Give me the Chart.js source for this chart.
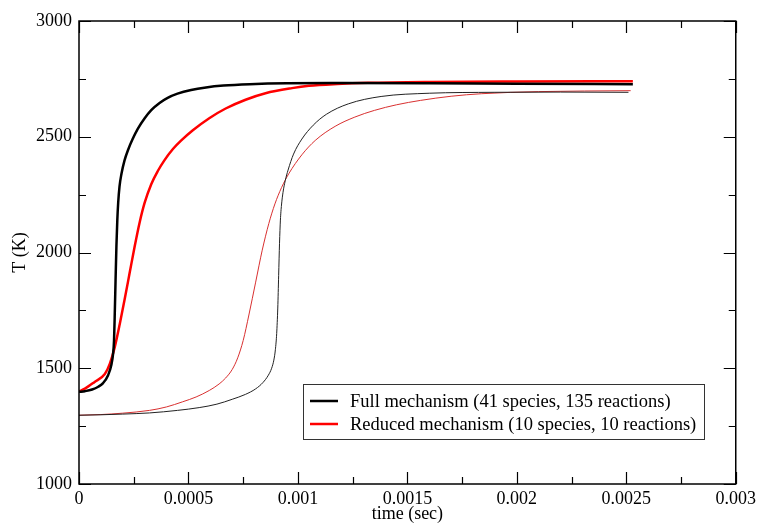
<!DOCTYPE html>
<html>
<head>
<meta charset="utf-8">
<script src="https://cdn.jsdelivr.net/npm/chart.js@4.4.1/dist/chart.umd.min.js"></script>
<style>
html, body { margin: 0; padding: 0; background: #fff; }
</style>
</head>
<body>
<canvas id="grafica" width="760" height="525"></canvas>
<script>
// series names (legend)
var seriesNames = ['Full mechanism (41 species, 135 reactions)', 'Reduced mechanism (10 species, 10 reactions)'];

// full mechanism, initial T = 1400 K
var tFull1400 = [0, 0.000027, 0.00006, 0.000088, 0.00011, 0.000133, 0.000148, 0.000156, 0.00016, 0.000163, 0.000167, 0.000171, 0.000175, 0.000179, 0.000185, 0.000194, 0.000208, 0.000224, 0.000245, 0.000269, 0.0003, 0.00033, 0.000368, 0.000405, 0.00045, 0.000512, 0.00058, 0.00066, 0.00078, 0.00095, 0.0012, 0.0016, 0.002, 0.00253];
var TFull1400 = [1398, 1401, 1408, 1420, 1436, 1470, 1515, 1565, 1620, 1720, 1880, 2030, 2140, 2215, 2285, 2340, 2398, 2443, 2490, 2535, 2580, 2615, 2646, 2668, 2686, 2702, 2713, 2721, 2727, 2731, 2732, 2731, 2729, 2727];

// reduced mechanism, initial T = 1400 K
var tRed1400 = [0, 0.000027, 0.00007, 0.000118, 0.000141, 0.000163, 0.000186, 0.000209, 0.000231, 0.000254, 0.000277, 0.0003, 0.00033, 0.00036, 0.00039, 0.00043, 0.000466, 0.00052, 0.000595, 0.00067, 0.000761, 0.000852, 0.000973, 0.00105, 0.00118, 0.00132, 0.0016, 0.002, 0.00253];
var TRed1400 = [1400, 1412, 1440, 1475, 1520, 1590, 1690, 1800, 1910, 2025, 2130, 2215, 2295, 2352, 2398, 2448, 2483, 2528, 2580, 2622, 2660, 2688, 2710, 2720, 2728, 2733, 2737, 2739, 2740];

// full mechanism, initial T = 1300 K
var tFull1300 = [0, 0.0001, 0.0002, 0.000322, 0.00045, 0.000549, 0.00063, 0.0007, 0.00076, 0.000807, 0.00084, 0.000865, 0.00088, 0.00089, 0.000897, 0.000903, 0.000908, 0.000912, 0.000916, 0.00092, 0.000925, 0.000932, 0.000942, 0.000955, 0.00098, 0.001018, 0.00107, 0.00113, 0.00123, 0.00138, 0.0016, 0.0019, 0.0022, 0.00251];
var TFull1300 = [1297, 1299, 1302, 1307, 1318, 1330, 1345, 1366, 1387, 1411, 1438, 1470, 1500, 1535, 1580, 1650, 1760, 1900, 2040, 2140, 2205, 2260, 2310, 2356, 2425, 2490, 2550, 2597, 2642, 2674, 2688, 2692, 2693, 2692];

// reduced mechanism, initial T = 1300 K
var tRed1300 = [0, 0.0001, 0.0002, 0.000322, 0.0004, 0.000473, 0.000535, 0.000595, 0.00064, 0.00067, 0.0007, 0.000725, 0.00075, 0.000776, 0.000807, 0.000837, 0.000867, 0.000895, 0.000925, 0.000958, 0.001018, 0.001079, 0.00117, 0.00126, 0.00135, 0.00145, 0.00156, 0.0017, 0.00184, 0.0021, 0.00252];
var TRed1300 = [1297, 1300, 1306, 1318, 1333, 1355, 1376, 1404, 1432, 1458, 1495, 1545, 1620, 1730, 1872, 2010, 2125, 2210, 2280, 2340, 2422, 2484, 2545, 2585, 2614, 2638, 2657, 2675, 2686, 2695, 2699];

// tick labels
var xTickLabels = ['0', '0.0005', '0.001', '0.0015', '0.002', '0.0025', '0.003'];
var yTickLabels = ['1000', '1500', '2000', '2500', '3000'];

var serif = "'Liberation Serif', 'Times New Roman', serif";

function puntos(tx, ty) {
    var p = [];
    for (var i = 0; i < tx.length; i++) p.push({x: tx[i], y: ty[i]});
    return p;
}

// frame, inward ticks on all 4 sides, legend box
var marco = {
    id: 'marco',
    afterDatasetsDraw: function(chart) {
        var c = chart.ctx;
        var a = chart.chartArea;
        var sx = chart.scales.x, sy = chart.scales.y;
        c.save();
        c.strokeStyle = '#000';
        c.lineWidth = 1.5;
        c.strokeRect(a.left, a.top, a.right - a.left, a.bottom - a.top);
        c.lineWidth = 1.2;
        var i, v, p, len;
        for (i = 0; i <= 12; i++) {
            v = i * 0.00025;
            p = Math.round(sx.getPixelForValue(v)) + 0.5;
            len = (i % 2 == 0) ? 12 : 7;
            c.beginPath();
            c.moveTo(p, a.bottom); c.lineTo(p, a.bottom - len);
            c.moveTo(p, a.top); c.lineTo(p, a.top + len);
            c.stroke();
        }
        for (i = 0; i <= 8; i++) {
            v = 1000 + i * 250;
            p = Math.round(sy.getPixelForValue(v)) + 0.5;
            len = (i % 2 == 0) ? 12 : 7;
            c.beginPath();
            c.moveTo(a.left, p); c.lineTo(a.left + len, p);
            c.moveTo(a.right, p); c.lineTo(a.right - len, p);
            c.stroke();
        }
        // legend
        var bx = 303.5, by = 384.5, bw = 401, bh = 55;
        c.fillStyle = '#fff';
        c.fillRect(bx, by, bw, bh);
        c.strokeStyle = '#333';
        c.lineWidth = 1;
        c.strokeRect(bx, by, bw, bh);
        var cols = ['#000', '#ff0000'];
        c.font = '18.5px ' + serif;
        c.textBaseline = 'middle';
        c.textAlign = 'left';
        for (i = 0; i < seriesNames.length; i++) {
            var ly = 401 + i * 23;
            c.strokeStyle = cols[i];
            c.lineWidth = 2.5;
            c.beginPath();
            c.moveTo(310, ly); c.lineTo(338, ly);
            c.stroke();
            c.fillStyle = '#000';
            c.fillText(seriesNames[i], 350, ly + 1);
        }
        c.restore();
    }
};

var miCanvas = document.getElementById('grafica').getContext('2d');
var chart = new Chart(miCanvas, {
    type: 'line',
    data: {
        datasets: [
            { label: seriesNames[0], data: puntos(tFull1400, TFull1400), borderColor: '#000', borderWidth: 2.5, pointRadius: 0, cubicInterpolationMode: 'monotone', fill: false },
            { label: seriesNames[1], data: puntos(tRed1400, TRed1400), borderColor: '#ff0000', borderWidth: 2.5, pointRadius: 0, cubicInterpolationMode: 'monotone', fill: false },
            { label: seriesNames[0] + ' 1300', data: puntos(tFull1300, TFull1300), borderColor: '#222', borderWidth: 1, pointRadius: 0, cubicInterpolationMode: 'monotone', fill: false },
            { label: seriesNames[1] + ' 1300', data: puntos(tRed1300, TRed1300), borderColor: '#d83030', borderWidth: 1, pointRadius: 0, cubicInterpolationMode: 'monotone', fill: false }
        ]
    },
    options: {
        responsive: false,
        animation: false,
        devicePixelRatio: 1,
        layout: { padding: { top: 21, right: 20, left: 0, bottom: 0 } },
        plugins: { legend: { display: false }, tooltip: { enabled: false } },
        scales: {
            x: {
                type: 'linear', min: 0, max: 0.003,
                grid: { display: false, drawTicks: false, tickLength: 0 }, border: { display: false },
                afterBuildTicks: function(s) {
                    s.ticks = xTickLabels.map(function(l) { return {value: parseFloat(l)}; });
                },
                ticks: {
                    color: '#000', padding: 4, maxRotation: 0, autoSkip: false,
                    font: { family: serif, size: 18 },
                    callback: function(v, i) { return xTickLabels[i]; }
                },
                title: { display: true, text: 'time (sec)', color: '#000', font: { family: serif, size: 18 }, padding: { top: 0, bottom: 0 } },
                afterFit: function(s) { s.height = 41; }
            },
            y: {
                min: 1000, max: 3000,
                grid: { display: false, drawTicks: false, tickLength: 0 }, border: { display: false },
                afterBuildTicks: function(s) {
                    s.ticks = yTickLabels.map(function(l) { return {value: parseFloat(l)}; });
                },
                ticks: {
                    color: '#000', padding: 7, autoSkip: false,
                    font: { family: serif, size: 18 },
                    callback: function(v, i) { return yTickLabels[i]; }
                },
                title: { display: true, text: 'T (K)', color: '#000', font: { family: serif, size: 18 }, padding: { top: 9, bottom: 0 } },
                afterFit: function(s) { s.width = 79; }
            }
        }
    },
    plugins: [marco]
});
</script>
</body>
</html>
